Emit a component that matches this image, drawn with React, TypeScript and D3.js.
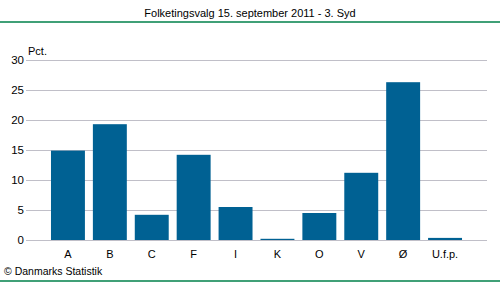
import React from "react";
import * as d3 from "d3";

const categories = ["A", "B", "C", "F", "I", "K", "O", "V", "Ø", "U.f.p."];
const values = [14.9, 19.3, 4.2, 14.2, 5.5, 0.2, 4.5, 11.2, 26.3, 0.35];
const yTicks = [0, 5, 10, 15, 20, 25, 30];
const title = "Folketingsvalg 15. september 2011 - 3. Syd";
const unitLabel = "Pct.";
const credit = "© Danmarks Statistik";

const W = 500;
const H = 282;
const font = "Arial, 'Liberation Sans', sans-serif";

export default function App() {
  const x = d3
    .scaleBand<string>()
    .domain(categories)
    .range([47, 466])
    .paddingInner(0.19)
    .paddingOuter(0.095);
  const y = d3.scaleLinear().domain([0, 30]).range([240, 60]);
  const gridX0 = 26;
  const gridX1 = 487;

  return (
    <svg
      width={W}
      height={H}
      style={{ position: "absolute", left: 0, top: 0, display: "block" }}
      fontFamily={font}
    >
      <rect x={0} y={0} width={W} height={H} fill="#fff" />
      <text x={250} y={17} textAnchor="middle" fontSize={11} fill="#000">
        {title}
      </text>
      <line x1={0} x2={W} y1={22} y2={22} stroke="#00804a" strokeWidth={1.5} />
      {yTicks.map((t) => (
        <g key={t}>
          <line
            x1={gridX0}
            x2={gridX1}
            y1={y(t) + 0.5}
            y2={y(t) + 0.5}
            stroke="#c0bfc8"
            strokeWidth={1}
          />
          <text x={24} y={y(t) + 4} textAnchor="end" fontSize={11.5} fill="#000">
            {t}
          </text>
        </g>
      ))}
      <text x={28} y={55} fontSize={11} fill="#000">
        {unitLabel}
      </text>
      {categories.map((c, i) => (
        <rect
          key={c}
          x={x(c)}
          y={y(values[i])}
          width={x.bandwidth()}
          height={y(0) - y(values[i])}
          fill="#006193"
        />
      ))}
      {categories.map((c) => (
        <text
          key={c}
          x={(x(c) as number) + x.bandwidth() / 2}
          y={258}
          textAnchor="middle"
          fontSize={11}
          fill="#000"
        >
          {c}
        </text>
      ))}
      <text x={4} y={275} fontSize={10.5} fill="#000">
        {credit}
      </text>
      <line x1={0} x2={W} y1={281} y2={281} stroke="#00804a" strokeWidth={1.5} />
    </svg>
  );
}
